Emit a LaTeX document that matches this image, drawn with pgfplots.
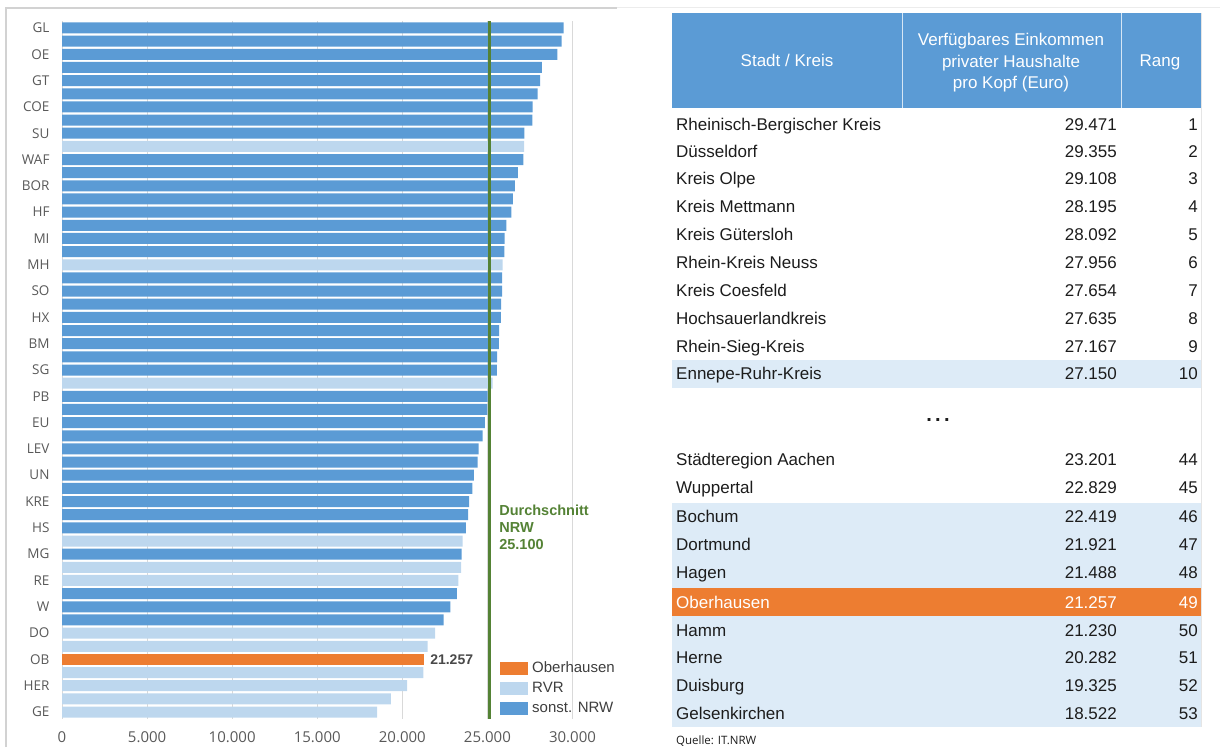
\documentclass[border=0pt]{standalone}
\usepackage{pgfplots}
\pgfplotsset{compat=1.18}
\usepackage{pgfplotstable}
\usepackage{fontspec}
\setmainfont{Liberation Sans}
\newfontfamily\osans{Open Sans}

\definecolor{nrwblue}{HTML}{5B9BD5}
\definecolor{rvrblue}{HTML}{BDD7EE}
\definecolor{obOrange}{HTML}{ED7D31}
\definecolor{rowblue}{HTML}{DDEBF7}
\definecolor{avggreen}{RGB}{84,130,53}
\definecolor{ticktext}{HTML}{595959}
\definecolor{bodytext}{HTML}{1C1C1C}
\definecolor{gridgray}{HTML}{D9D9D9}

% Verfuegbares Einkommen je Einwohner, nach Rang (1 = hoechstes)
\pgfplotstableread{
rank value
49 21257
}\oberhausen

\pgfplotstableread{
rank value
10 27150
19 25890
28 25300
40 23550
42 23460
43 23300
47 21921
48 21488
50 21230
51 20282
52 19325
53 18522
}\rvr

\pgfplotstableread{
rank value
1 29471
2 29355
3 29108
4 28195
5 28092
6 27956
7 27654
8 27635
9 27167
11 27120
12 26790
13 26610
14 26500
15 26410
16 26120
17 26010
18 25990
20 25870
21 25860
22 25800
23 25790
24 25690
25 25680
26 25570
27 25560
29 25010
30 24990
31 24850
32 24720
33 24490
34 24420
35 24200
36 24110
37 23920
38 23860
39 23740
41 23480
44 23201
45 22829
46 22419
}\sonst

% one table row: y centre (from top), name, value, rank, text colour
\newcommand{\trow}[5][bodytext]{%
  \node[anchor=base west, text=#1] at (676,{741-(#2)}) {#3};
  \node[anchor=base east, text=#1] at (1117,{741-(#2)}) {#4};
  \node[anchor=base east, text=#1] at (1198,{741-(#2)}) {#5};}

\begin{document}
\begin{tikzpicture}
\path[use as bounding box] (0,0) rectangle (1220pt,747pt);

\begin{axis}[
  at={(62pt,725.6pt)}, anchor=north west,
  scale only axis, width=510.5pt, height=697.2pt,
  xmin=0, xmax=30000, ymin=0.5, ymax=53.5,
  y dir=reverse, enlargelimits=false, clip=false,
  axis x line*=bottom, axis y line*=left,
  x axis line style={draw=none},
  y axis line style={draw=gridgray, line width=1pt},
  major tick length=0pt,
  xtick={0,5000,...,30000},
  xticklabels={0,5.000,10.000,15.000,20.000,25.000,30.000},
  xticklabel style={font=\osans\fontsize{15}{17}\selectfont, text=ticktext, yshift=-9.5pt},
  ytick={1,3,...,53},
  yticklabels={GL,OE,GT,COE,SU,WAF,BOR,HF,MI,MH,SO,HX,BM,SG,PB,EU,LEV,UN,KRE,HS,MG,RE,W,DO,OB,HER,GE},
  yticklabel style={font=\osans\fontsize{13.5}{15}\selectfont, text=ticktext, xshift=-9pt},
  xmajorgrids, major grid style={draw=gridgray, line width=1pt},
  legend style={at={(0.858,0.0855)}, anchor=north west, draw=none, fill=none,
    font=\fontsize{15}{17}\selectfont, text=ticktext!70!black,
    row sep=2pt, inner sep=0pt,
    nodes={inner sep=1.5pt, minimum height=18pt}},
  legend cell align=left,
]
\addplot[xbar, bar width=11pt, bar shift=0pt, fill=obOrange, draw=none,
  legend image code/.code={\fill[obOrange] (0pt,-6.5pt) rectangle (28pt,6.5pt);},
  nodes near coords={\textbf{21.257}},
  every node near coord/.append style={font=\fontsize{14}{16}\selectfont, text=bodytext!80!white, xshift=3pt}]
  table[x=value, y=rank] {\oberhausen};
\addlegendentry{\hspace{2.5pt}Oberhausen}
\addplot[xbar, bar width=11pt, bar shift=0pt, fill=rvrblue, draw=none,
  legend image code/.code={\fill[rvrblue] (0pt,-6.5pt) rectangle (28pt,6.5pt);}]
  table[x=value, y=rank] {\rvr};
\addlegendentry{\hspace{2.5pt}RVR}
\addplot[xbar, bar width=11pt, bar shift=0pt, fill=nrwblue, draw=none,
  legend image code/.code={\fill[nrwblue] (0pt,-6.5pt) rectangle (28pt,6.5pt);}]
  table[x=value, y=rank] {\sonst};
\addlegendentry{\hspace{2.5pt}sonst. NRW}
% Landesdurchschnitt
\addplot[forget plot, draw=avggreen, line width=3pt] coordinates {(25100,0.5) (25100,53.5)};
\node[anchor=north west, align=left, inner sep=0pt, text=avggreen,
  font=\fontsize{14.5}{17}\selectfont\bfseries]
  at (axis cs:25100,37.26) [xshift=10pt] {Durchschnitt\\NRW\\25.100};
\end{axis}

\begin{scope}[x=1pt, y=1pt]
  % frame lines of the chart panel
  \draw[gray!35, line width=1.2pt] (6,0) -- (6,{747-8}) -- (617,{747-8});
  \draw[gray!15, line width=1pt] (617,{747-7.5}) -- (1220,{747-7.5});

  % table backgrounds
  \fill[rowblue] (672,{747-360}) rectangle (1201,{747-388});
  \fill[rowblue] (672,{747-503}) rectangle (1201,{747-727});
  \fill[obOrange] (672,{747-588}) rectangle (1201,{747-616});
  \draw[gray!20, line width=0.8pt] (1201,{747-13}) -- (1201,{747-727});

  % header
  \fill[nrwblue] (672,{747-13}) rectangle (1201,{747-108});
  \draw[white!75!nrwblue, line width=1pt] (902,{747-13}) -- (902,{747-108});
  \draw[white!75!nrwblue, line width=1pt] (1121,{747-13}) -- (1121,{747-108});

  \begin{scope}[every node/.style={inner sep=0pt, font=\fontsize{17}{20}\selectfont}]
    \node[anchor=base, text=white] at (787,{741-61}) {Stadt / Kreis};
    \node[anchor=base, text=white] at (1011,{741-40}) {Verfügbares Einkommen};
    \node[anchor=base, text=white] at (1011,{741-62}) {privater Haushalte};
    \node[anchor=base, text=white] at (1011,{741-83}) {pro Kopf (Euro)};
    \node[anchor=base, text=white] at (1160,{741-61}) {Rang};

    \trow{124.5}{Rheinisch-Bergischer Kreis}{29.471}{1}
    \trow{151.5}{Düsseldorf}{29.355}{2}
    \trow{179}{Kreis Olpe}{29.108}{3}
    \trow{207}{Kreis Mettmann}{28.195}{4}
    \trow{235}{Kreis Gütersloh}{28.092}{5}
    \trow{262.5}{Rhein-Kreis Neuss}{27.956}{6}
    \trow{290.5}{Kreis Coesfeld}{27.654}{7}
    \trow{318.5}{Hochsauerlandkreis}{27.635}{8}
    \trow{346.5}{Rhein-Sieg-Kreis}{27.167}{9}
    \trow{374}{Ennepe-Ruhr-Kreis}{27.150}{10}

    \node[anchor=base, font=\fontsize{20}{22}\selectfont\bfseries, text=bodytext] at (938,{741-416}) {.\,.\,.};

    \trow{460}{Städteregion Aachen}{23.201}{44}
    \trow{488}{Wuppertal}{22.829}{45}
    \trow{517}{Bochum}{22.419}{46}
    \trow{545}{Dortmund}{21.921}{47}
    \trow{573}{Hagen}{21.488}{48}
    \trow[white]{602}{Oberhausen}{21.257}{49}
    \trow{630}{Hamm}{21.230}{50}
    \trow{657.5}{Herne}{20.282}{51}
    \trow{685.5}{Duisburg}{19.325}{52}
    \trow{713}{Gelsenkirchen}{18.522}{53}
  \end{scope}

  \node[anchor=base west, inner sep=0pt, text=bodytext, font=\osans\fontsize{11.5}{13}\selectfont]
    at (676,{747-744}) {Quelle: IT.NRW};
\end{scope}
\end{tikzpicture}
\end{document}
